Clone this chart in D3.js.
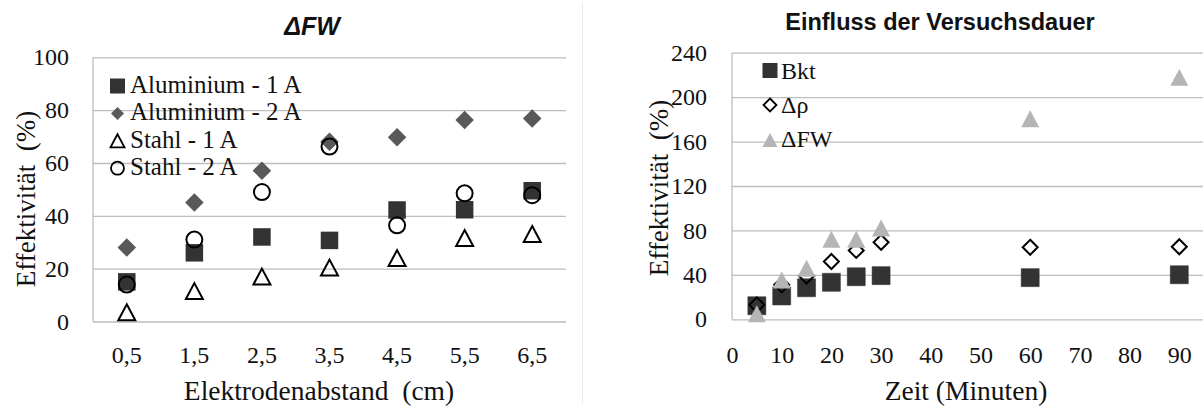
<!DOCTYPE html>
<html>
<head>
<meta charset="utf-8">
<script src="https://cdn.jsdelivr.net/npm/d3@7/dist/d3.min.js"></script>
<style>
  html, body { margin: 0; padding: 0; background: #fff; }
  svg { display: block; }
  text { white-space: pre; }
</style>
</head>
<body>
<svg id="chart" width="1203" height="407"></svg>
<script>
// ---------- Data: left chart (ΔFW) ----------
const leftTitle = "ΔFW";
const leftCategories = ["0,5", "1,5", "2,5", "3,5", "4,5", "5,5", "6,5"];
const leftSeriesNames = ["Aluminium - 1 A", "Aluminium - 2 A", "Stahl - 1 A", "Stahl - 2 A"];
const alu1A = [15, 26, 32, 30.7, 42.2, 42.3, 49.5];
const alu2A = [28, 45, 57.1, 68, 69.7, 76.3, 76.8];
const stahl1A = [3.5, 11.5, 17, 20.4, 24, 31.6, 33.1];
const stahl2A = [14, 31, 49, 66.2, 36.4, 48.5, 47.8];
const leftYTicks = [0, 20, 40, 60, 80, 100];
const leftXLabel = "Elektrodenabstand\u00a0 (cm)";
const yLabel = "Effektivität\u00a0 (%)";

// ---------- Data: right chart (Einfluss der Versuchsdauer) ----------
const rightTitle = "Einfluss der Versuchsdauer";
const zeit = [5, 10, 15, 20, 25, 30, 60, 90];
const rightSeriesNames = ["Bkt", "Δρ", "ΔFW"];
const bkt = [12.2, 21, 28.4, 33.3, 38.3, 39.3, 37.5, 40.1];
const deltaRho = [13, 31, 39, 52, 62, 69.3, 64.8, 65.3];
const deltaFW = [5, 35.4, 45.9, 72, 72, 82.2, 180.6, 217.8];
const rightYTicks = [0, 40, 80, 120, 160, 200, 240];
const rightXTicks = [0, 10, 20, 30, 40, 50, 60, 70, 80, 90];
const rightXLabel = "Zeit (Minuten)";

// ---------- Marker shapes (size = bounding width in px) ----------
const sqShape = { draw(c, s) { const h = s / 2; c.rect(-h, -h, s, s); } };
const diaShape = { draw(c, s) { const h = s / 2; c.moveTo(0, -h); c.lineTo(h, 0); c.lineTo(0, h); c.lineTo(-h, 0); c.closePath(); } };
const triShape = { draw(c, s) { const h = s / 2, t = s * 0.47; c.moveTo(0, -t); c.lineTo(h, t); c.lineTo(-h, t); c.closePath(); } };
const cirShape = { draw(c, s) { const r = s / 2; c.moveTo(r, 0); c.arc(0, 0, r, 0, 2 * Math.PI); } };

const serif = "'Liberation Serif', 'Times New Roman', serif";
const sans = "'Liberation Sans', Arial, sans-serif";
const gridColor = "#bdbdbd";

const svg = d3.select("#chart");

// faint chart frame
svg.append("line").attr("x1", 582.5).attr("x2", 582.5).attr("y1", 2).attr("y2", 405)
  .attr("stroke", "#ececec").attr("stroke-width", 1);

// ================= LEFT CHART =================
const L = { left: 93, right: 566, top: 57.3, bottom: 321.5 };
const xL = d3.scaleBand().domain(leftCategories).range([L.left, L.right]);
const yL = d3.scaleLinear().domain([0, 100]).range([L.bottom, L.top]);

const gL = svg.append("g");
gL.append("g").attr("transform", `translate(${L.left},0)`)
  .call(d3.axisLeft(yL).tickValues(leftYTicks).tickSize(-(L.right - L.left)).tickFormat(""))
  .call(g => g.select(".domain").remove())
  .call(g => g.selectAll(".tick line").attr("stroke", gridColor).attr("stroke-width", 1.3));
gL.append("line").attr("x1", L.left).attr("x2", L.left).attr("y1", L.top).attr("y2", L.bottom)
  .attr("stroke", gridColor).attr("stroke-width", 1.3);

gL.append("g").attr("transform", `translate(${L.left},0)`)
  .call(d3.axisLeft(yL).tickValues(leftYTicks).tickSize(0).tickPadding(24).tickFormat(d3.format("d")))
  .call(g => g.select(".domain").remove())
  .call(g => g.selectAll("text").attr("font-family", serif).attr("font-size", 24).attr("fill", "#111"));

gL.append("g").attr("transform", `translate(0,${L.bottom})`)
  .call(d3.axisBottom(xL).tickSize(0))
  .call(g => g.select(".domain").remove())
  .call(g => g.selectAll("text").attr("y", 41.5).attr("dy", 0)
    .attr("font-family", serif).attr("font-size", 24).attr("fill", "#111"));

gL.append("text").attr("x", 319).attr("y", 400).attr("text-anchor", "middle")
  .attr("font-family", serif).attr("font-size", 27.5).attr("fill", "#111").text(leftXLabel);
gL.append("text").attr("transform", "translate(35,199) rotate(-90)").attr("text-anchor", "middle")
  .attr("font-family", serif).attr("font-size", 27).attr("fill", "#111").text(yLabel);

gL.append("text").attr("x", 312).attr("y", 35).attr("text-anchor", "middle")
  .attr("font-family", sans).attr("font-weight", "bold").attr("font-style", "italic")
  .attr("font-size", 25).attr("fill", "#111").text(leftTitle);

const cx = c => xL(c) + xL.bandwidth() / 2;
const leftSeries = [
  { values: alu1A, shape: sqShape, size: 17.5, fill: "#333333", stroke: "none", sw: 0 },
  { values: alu2A, shape: diaShape, size: 18.5, fill: "#595959", stroke: "none", sw: 0 },
  { values: stahl1A, shape: triShape, size: 17, fill: "none", stroke: "#000", sw: 2 },
  { values: stahl2A, shape: cirShape, size: 16, fill: "none", stroke: "#000", sw: 2 }
];
leftSeries.forEach(s => {
  gL.append("g").selectAll("path").data(s.values).join("path")
    .attr("transform", (d, i) => `translate(${cx(leftCategories[i])},${yL(d)})`)
    .attr("d", d3.symbol().type(s.shape).size(s.size)())
    .attr("fill", s.fill).attr("stroke", s.stroke).attr("stroke-width", s.sw);
});

const legL = [
  { shape: sqShape, size: 15, fill: "#333333", stroke: "none", sw: 0 },
  { shape: diaShape, size: 13, fill: "#595959", stroke: "none", sw: 0 },
  { shape: triShape, size: 14, fill: "none", stroke: "#000", sw: 1.8 },
  { shape: cirShape, size: 13, fill: "none", stroke: "#000", sw: 1.8 }
];
leftSeriesNames.forEach((name, i) => {
  const by = 93 + i * 27.4;
  const m = legL[i];
  gL.append("path").attr("transform", `translate(117.5,${by - 7})`)
    .attr("d", d3.symbol().type(m.shape).size(m.size)())
    .attr("fill", m.fill).attr("stroke", m.stroke).attr("stroke-width", m.sw);
  gL.append("text").attr("x", 130).attr("y", by).attr("font-family", serif)
    .attr("font-size", 25).attr("fill", "#111").text(name);
});

// ================= RIGHT CHART =================
const R = { left: 732, right: 1229, top: 52.7, bottom: 319.3 };
const xR = d3.scaleLinear().domain([0, 100]).range([R.left, R.right]);
const yR = d3.scaleLinear().domain([0, 240]).range([R.bottom, R.top]);

const gR = svg.append("g");
gR.append("g").attr("transform", `translate(${R.left},0)`)
  .call(d3.axisLeft(yR).tickValues(rightYTicks).tickSize(-(R.right - R.left)).tickFormat(""))
  .call(g => g.select(".domain").remove())
  .call(g => g.selectAll(".tick line").attr("stroke", gridColor).attr("stroke-width", 1.3));
gR.append("line").attr("x1", R.left).attr("x2", R.left).attr("y1", R.top).attr("y2", R.bottom)
  .attr("stroke", gridColor).attr("stroke-width", 1.3);

gR.append("g").attr("transform", `translate(${R.left},0)`)
  .call(d3.axisLeft(yR).tickValues(rightYTicks).tickSize(0).tickPadding(25).tickFormat(d3.format("d")))
  .call(g => g.select(".domain").remove())
  .call(g => g.selectAll("text").attr("font-family", serif).attr("font-size", 24).attr("fill", "#111"));

gR.append("g").attr("transform", `translate(0,${R.bottom})`)
  .call(d3.axisBottom(xR).tickValues(rightXTicks).tickSize(0).tickFormat(d3.format("d")))
  .call(g => g.select(".domain").remove())
  .call(g => g.selectAll("text").attr("y", 43.5).attr("dy", 0)
    .attr("font-family", serif).attr("font-size", 24).attr("fill", "#111"));

gR.append("text").attr("x", 966).attr("y", 400).attr("text-anchor", "middle")
  .attr("font-family", serif).attr("font-size", 27.5).attr("fill", "#111").text(rightXLabel);
gR.append("text").attr("transform", "translate(668,188) rotate(-90)").attr("text-anchor", "middle")
  .attr("font-family", serif).attr("font-size", 27).attr("fill", "#111").text(yLabel);

gR.append("text").attr("x", 940).attr("y", 30).attr("text-anchor", "middle")
  .attr("font-family", sans).attr("font-weight", "bold")
  .attr("font-size", 23.5).attr("fill", "#111").text(rightTitle);

const rightSeries = [
  { values: bkt, shape: sqShape, size: 18, fill: "#333333", stroke: "#2a2a2a", sw: 0.5 },
  { values: deltaRho, shape: diaShape, size: 15, fill: "none", stroke: "#000", sw: 2 },
  { values: deltaFW, shape: triShape, size: 18, fill: "#b5b5b5", stroke: "none", sw: 0 }
];
rightSeries.forEach(s => {
  gR.append("g").selectAll("path").data(s.values).join("path")
    .attr("transform", (d, i) => `translate(${xR(zeit[i])},${yR(d)})`)
    .attr("d", d3.symbol().type(s.shape).size(s.size)())
    .attr("fill", s.fill).attr("stroke", s.stroke).attr("stroke-width", s.sw);
});

const legR = [
  { shape: sqShape, size: 15, fill: "#333333", stroke: "none", sw: 0, cy: 70.5, by: 78.5 },
  { shape: diaShape, size: 13, fill: "none", stroke: "#000", sw: 1.8, cy: 105, by: 112.5 },
  { shape: triShape, size: 15, fill: "#b5b5b5", stroke: "none", sw: 0, cy: 140, by: 146.5 }
];
rightSeriesNames.forEach((name, i) => {
  const m = legR[i];
  gR.append("path").attr("transform", `translate(770,${m.cy})`)
    .attr("d", d3.symbol().type(m.shape).size(m.size)())
    .attr("fill", m.fill).attr("stroke", m.stroke).attr("stroke-width", m.sw);
  gR.append("text").attr("x", 781).attr("y", m.by).attr("font-family", serif)
    .attr("font-size", 24).attr("fill", "#111").text(name);
});
</script>
</body>
</html>
